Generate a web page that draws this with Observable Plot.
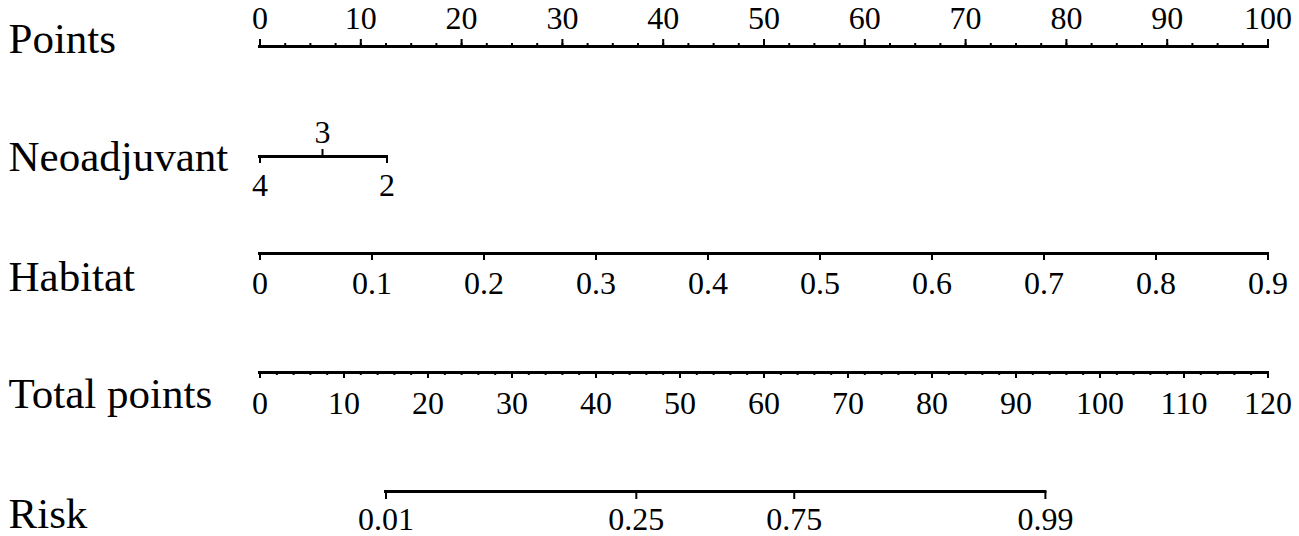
<!DOCTYPE html>
<html><head><meta charset="utf-8">
<script src="https://cdn.jsdelivr.net/npm/d3@7"></script>
<script src="https://cdn.jsdelivr.net/npm/@observablehq/plot@0.6"></script>
<style>
html,body{margin:0;padding:0;background:#fff;}
#chart{width:1299px;}
#chart svg{display:block;}
</style></head><body><div id="chart"></div>
<script>
// ---- data ----
const rowLabels = ["Points", "Neoadjuvant", "Habitat", "Total points", "Risk"];
const pointsLabels = [0, 10, 20, 30, 40, 50, 60, 70, 80, 90, 100];
const neoLevels = ["4", "3", "2"];
const neoPoints = [0, 6.2, 12.6];
const habitatLabels = [0, 0.1, 0.2, 0.3, 0.4, 0.5, 0.6, 0.7, 0.8, 0.9];
const totalLabels = [0, 10, 20, 30, 40, 50, 60, 70, 80, 90, 100, 110, 120];
const riskLabels = [0.01, 0.25, 0.75, 0.99];
const riskTotalPoints = [15.0, 44.8, 63.6, 93.5];

// minor tick marks of the axes
const pointsMinor = d3.range(0, 100 + 1e-9, 2.5);
const totalMinor = d3.range(0, 120 + 1e-9, 2);

// ---- layout ----
const W = 1299, ML = 259.5, MR = 31.5;
const FONT = "Liberation Serif, Times New Roman, serif";
const LBL = 43, TCK = 32;
const txt = {fontFamily: FONT, fill: "black", lineAnchor: "bottom"};

function rowPlot(H, lineY, domain, lo, hi, marks, label, labelDy) {
  return Plot.plot({
    width: W, height: H,
    marginLeft: ML, marginRight: MR,
    marginTop: lineY, marginBottom: H - lineY,
    x: {domain, axis: null},
    y: {domain: [0, 1], axis: null},
    style: {fontFamily: FONT, color: "black", background: "white", overflow: "visible"},
    marks: [
      Plot.ruleY([0], {x1: () => lo, x2: () => hi, stroke: "black", strokeWidth: 3, strokeLinecap: "square"}),
      ...marks,
      Plot.text([label], {...txt, frameAnchor: "left", text: d => d, textAnchor: "start",
        dx: -(ML - 8), dy: labelDy, fontSize: LBL})
    ]
  });
}

const chart = document.getElementById("chart");

// Points
chart.append(rowPlot(100, 46, [0, 100], 0, 100, [
  Plot.ruleX(pointsMinor, {x: d => d, insetTop: -3, stroke: "black", strokeWidth: 2}),
  Plot.ruleX(pointsLabels, {x: d => d, insetTop: -7, stroke: "black", strokeWidth: 2}),
  Plot.text(pointsLabels, {...txt, x: d => d, text: d => String(d), dy: -18, fontSize: TCK})
], rowLabels[0], 6));

// Neoadjuvant
const neo = neoLevels.map((l, i) => ({level: l, pts: neoPoints[i], up: i % 2 === 1}));
chart.append(rowPlot(110, 56, [0, 100], d3.min(neoPoints), d3.max(neoPoints), [
  Plot.ruleX(neo.filter(d => d.up), {x: "pts", insetTop: -7, stroke: "black", strokeWidth: 2}),
  Plot.ruleX(neo.filter(d => !d.up), {x: "pts", insetBottom: -7, stroke: "black", strokeWidth: 2}),
  Plot.text(neo.filter(d => d.up), {...txt, x: "pts", text: "level", dy: -14, fontSize: TCK}),
  Plot.text(neo.filter(d => !d.up), {...txt, x: "pts", text: "level", dy: 39, fontSize: TCK})
], rowLabels[1], 14));

// Habitat
chart.append(rowPlot(120, 43, [0, 0.9], 0, 0.9, [
  Plot.ruleX(habitatLabels, {x: d => d, insetBottom: -7, stroke: "black", strokeWidth: 2}),
  Plot.text(habitatLabels, {...txt, x: d => d, text: d => String(d), dy: 40, fontSize: TCK})
], rowLabels[2], 37));

// Total points
chart.append(rowPlot(120, 42, [0, 120], 0, 120, [
  Plot.ruleX(totalMinor, {x: d => d, insetBottom: -3, stroke: "black", strokeWidth: 2}),
  Plot.ruleX(totalLabels, {x: d => d, insetBottom: -6, stroke: "black", strokeWidth: 2}),
  Plot.text(totalLabels, {...txt, x: d => d, text: d => String(d), dy: 41, fontSize: TCK})
], rowLabels[3], 35));

// Risk
const risk = riskLabels.map((r, i) => ({risk: r, tp: riskTotalPoints[i]}));
chart.append(rowPlot(86, 41, [0, 120], d3.min(riskTotalPoints), d3.max(riskTotalPoints), [
  Plot.ruleX(risk, {x: "tp", insetBottom: -8, stroke: "black", strokeWidth: 2}),
  Plot.text(risk, {...txt, x: "tp", text: d => String(d.risk), dy: 38, fontSize: TCK})
], rowLabels[4], 36));
</script>
</body></html>
